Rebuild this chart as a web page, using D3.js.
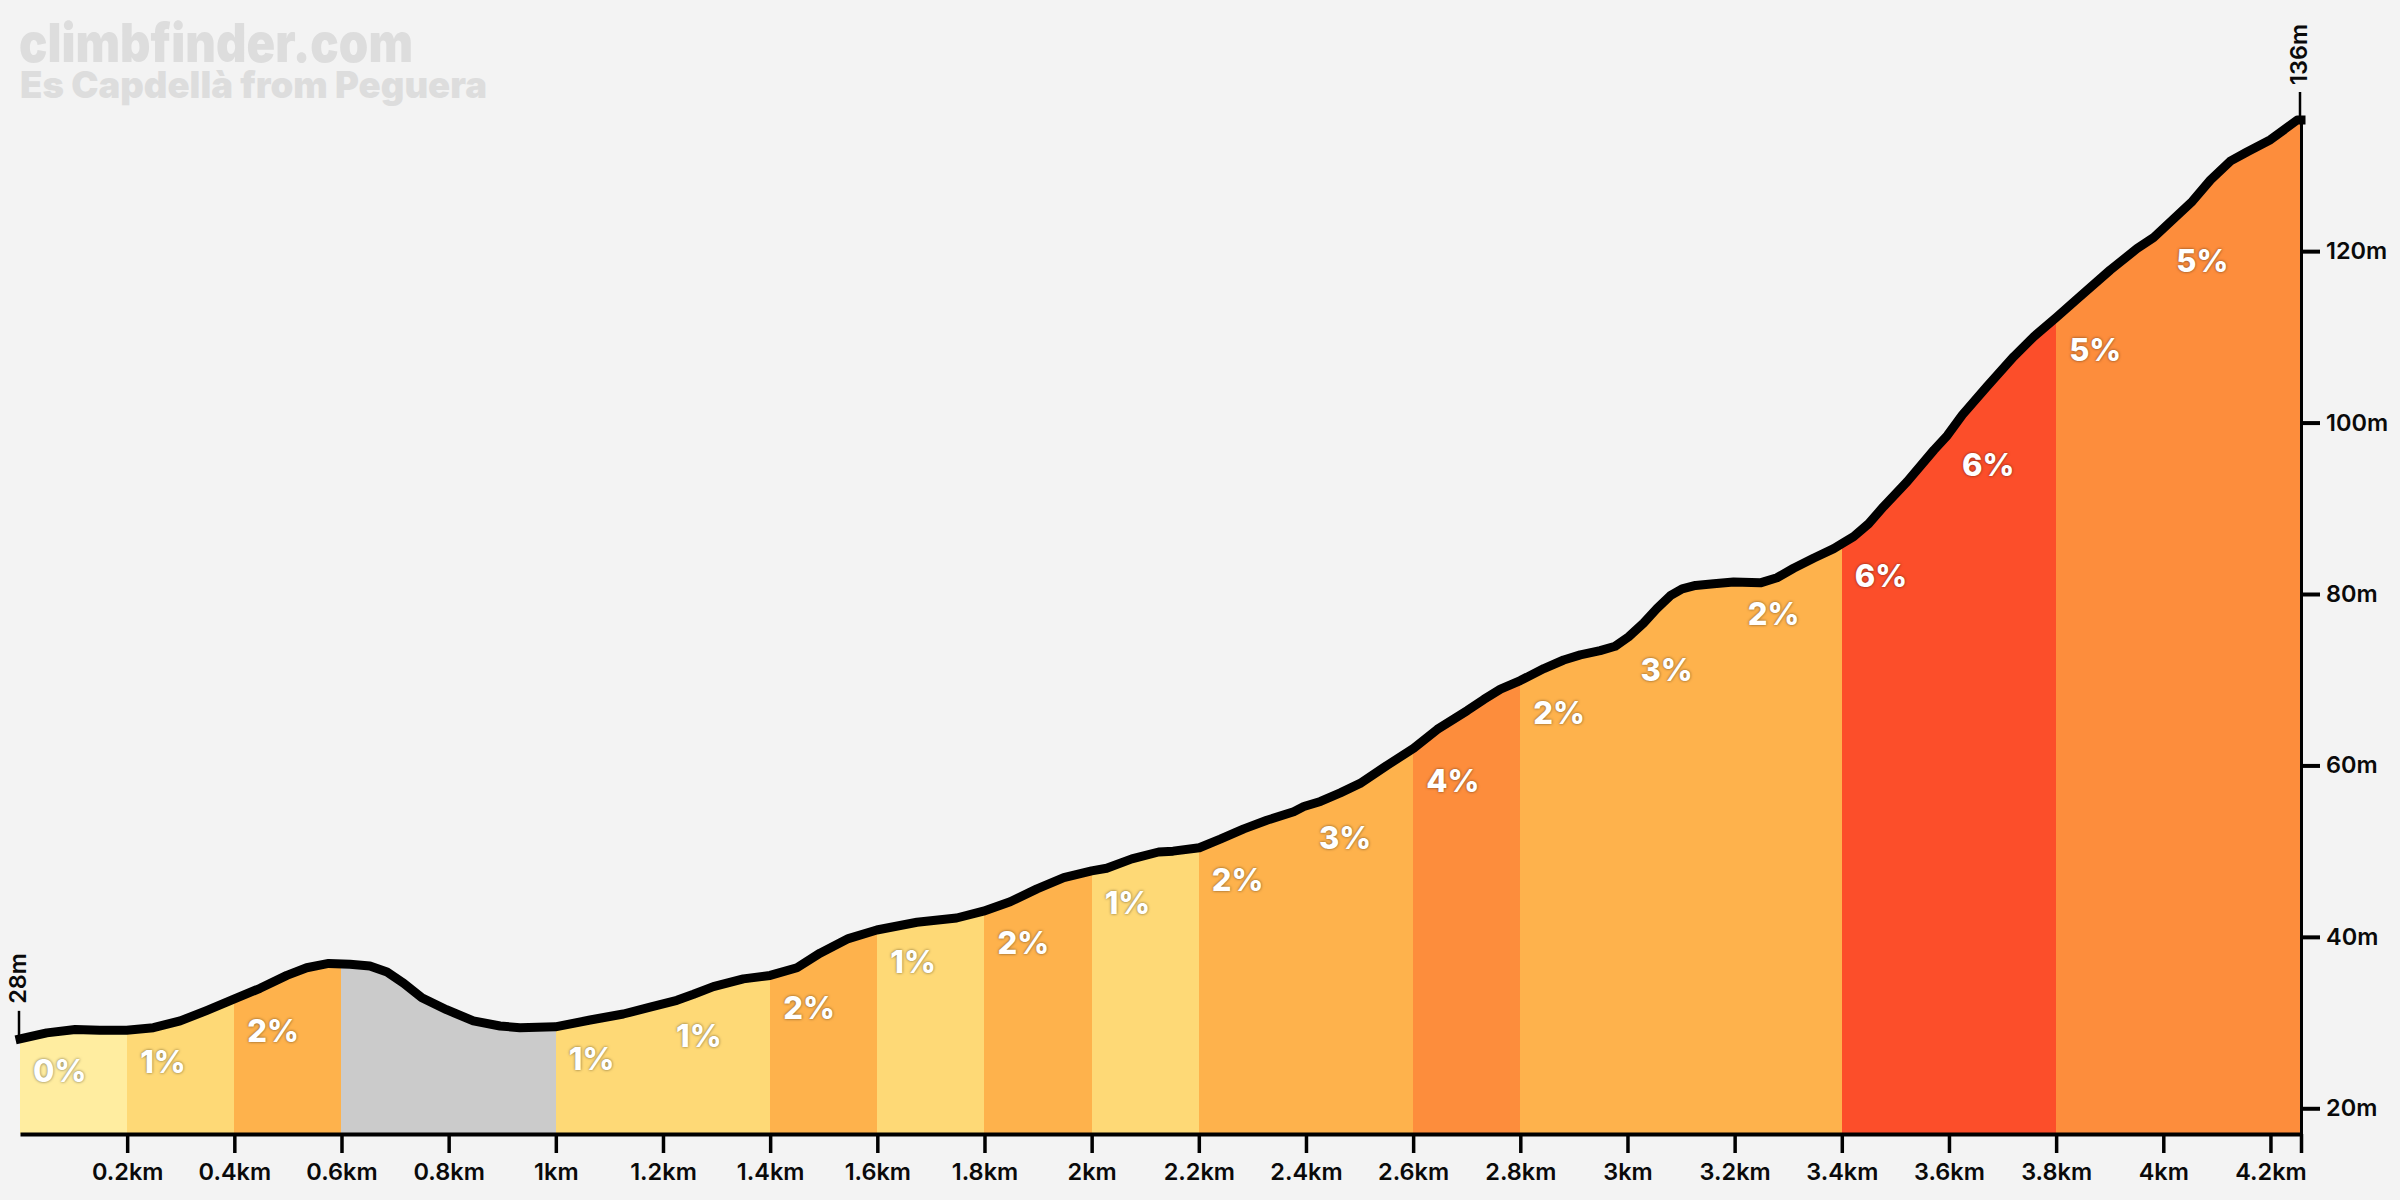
<!DOCTYPE html>
<html>
<head>
<meta charset="utf-8">
<script src="https://d3js.org/d3.v7.min.js"></script>
<style>
  html, body { margin: 0; padding: 0; background: #f3f3f3; }
  svg { display: block; }
  text { font-family: Inter, "Open Sans", sans-serif; }
  .axis text { font-size: 23.5px; font-weight: 600; fill: #0a0a0a; }
  .grade { font-size: 31px; font-weight: 800; fill: #fff; text-shadow: 0 0 3px rgba(0,0,0,.55); }
  .title { font-weight: 900; fill: #dddddd; }
</style>
</head>
<body>
<div id="chart"></div>
<script>
// profile
const distKm = [0,.05,.103,.149,.199,.249,.299,.348,.398,.448,.498,.535,.576,.616,.653,.685,.716,.750,.796,.846,.896,.933,.999,1.064,1.126,1.176,1.226,1.257,1.294,1.350,1.400,1.450,1.493,1.546,1.599,1.674,1.748,1.798,1.848,1.898,1.948,2.0,2.028,2.075,2.125,2.152,2.201,2.240,2.284,2.327,2.377,2.396,2.427,2.464,2.501,2.551,2.601,2.645,2.701,2.732,2.763,2.800,2.844,2.881,2.912,2.949,2.977,3.002,3.030,3.055,3.080,3.102,3.127,3.161,3.198,3.248,3.279,3.310,3.348,3.385,3.401,3.422,3.450,3.478,3.522,3.572,3.597,3.625,3.671,3.721,3.758,3.801,3.839,3.901,3.951,3.982,4.020,4.054,4.088,4.125,4.157,4.200,4.250,4.257];
const elevM = [28.1,28.8,29.2,29.1,29.1,29.4,30.2,31.4,32.7,34.0,35.5,36.4,36.9,36.8,36.6,35.9,34.6,32.9,31.5,30.2,29.6,29.4,29.5,30.3,31.0,31.8,32.6,33.3,34.2,35.1,35.5,36.4,38.1,39.8,40.8,41.7,42.2,43.0,44.1,45.6,46.9,47.7,48.0,49.1,49.9,50.0,50.4,51.4,52.6,53.6,54.6,55.2,55.8,56.8,57.9,60.0,62.0,64.2,66.4,67.7,68.9,69.9,71.3,72.3,72.9,73.4,73.9,75.0,76.6,78.3,79.8,80.6,81.0,81.2,81.4,81.3,81.9,83.0,84.2,85.3,85.9,86.7,88.2,90.2,93.1,96.8,98.5,100.9,104.2,107.7,110.0,112.3,114.4,117.8,120.3,121.6,123.8,125.8,128.3,130.5,131.6,133.0,135.3,135.3];

// one entry per 200m bin, null = downhill (grey, no label)
const binStarts = [0,.2,.4,.6,.8,1,1.2,1.4,1.6,1.8,2,2.2,2.4,2.6,2.8,3,3.2,3.4,3.6,3.8,4,4.2];
const binGrades = [0,1,2,null,null,1,1,2,1,2,1,2,3,4,2,3,2,6,6,5,5,5];
const binLabels = ['0%','1%','2%','','','1%','1%','2%','1%','2%','1%','2%','3%','4%','2%','3%','2%','6%','6%','5%','5%',''];

const xTicks = [.2,.4,.6,.8,1,1.2,1.4,1.6,1.8,2,2.2,2.4,2.6,2.8,3,3.2,3.4,3.6,3.8,4,4.2];
const yTicks = [20,40,60,80,100,120];
const gradeColors = {0:'#ffeda0',1:'#fed976',2:'#feb24c',3:'#feb24c',4:'#fd8d3c',5:'#fd8d3c',6:'#fc4e2a'};

const width = 2400, height = 1200;
const endKm = 4.257;
const profile = d3.zip(distKm, elevM);

const xScale = d3.scaleLinear().domain([0, endKm]).range([20, 2301]);
const yScale = d3.scaleLinear().domain([17, 135.3]).range([1134, 120]);

const svg = d3.select('#chart').append('svg')
  .attr('width', width).attr('height', height);

svg.append('rect').attr('width', width).attr('height', height).attr('fill', '#f3f3f3');

const area = d3.area()
  .x(d => xScale(d[0])).y0(yScale(17)).y1(d => yScale(d[1]));
const line = d3.line()
  .x(d => xScale(d[0])).y(d => yScale(d[1]));

// coloured bins, cut to the profile
svg.append('clipPath').attr('id', 'under')
  .append('path').attr('d', area(profile));

svg.append('g').attr('clip-path', 'url(#under)')
  .selectAll('rect').data(binStarts).enter().append('rect')
  .attr('x', d => Math.round(xScale(d)))
  .attr('y', 0)
  .attr('width', (d, i) => Math.round(xScale(i < binStarts.length - 1 ? binStarts[i + 1] : endKm)) - Math.round(xScale(d)))
  .attr('height', yScale(17))
  .attr('shape-rendering', 'crispEdges')
  .attr('fill', (d, i) => binGrades[i] === null ? '#cbcbcb' : gradeColors[binGrades[i]]);

// axes
const fmtKm = d => d === endKm ? '' : (+d.toFixed(1)) + 'km';
const gx = svg.append('g').attr('class', 'axis')
  .attr('transform', `translate(0, ${yScale(17)})`)
  .call(d3.axisBottom(xScale).tickValues(xTicks.concat([endKm])).tickFormat(fmtKm).tickSize(19).tickSizeOuter(0).tickPadding(10));
gx.select('.domain').attr('stroke', '#000').attr('stroke-width', 4);
gx.selectAll('.tick line').attr('stroke', '#000').attr('stroke-width', 3.5);

const gy = svg.append('g').attr('class', 'axis')
  .attr('transform', `translate(${xScale(endKm)}, 0)`)
  .call(d3.axisRight(yScale).tickValues(yTicks).tickFormat(d => d + 'm').tickSize(19).tickSizeOuter(0).tickPadding(6));
gy.select('.domain').attr('stroke', '#000').attr('stroke-width', 3);
gy.selectAll('.tick line').attr('stroke', '#000').attr('stroke-width', 4);

// start and end markers
const markers = [
  { km: 0, m: elevM[0], label: '28m' },
  { km: endKm, m: elevM[elevM.length - 1], label: '136m' }
];
svg.selectAll('.marker').data(markers).enter().append('line')
  .attr('class', 'marker')
  .attr('x1', d => xScale(d.km) - 1).attr('x2', d => xScale(d.km) - 1)
  .attr('y1', d => yScale(d.m)).attr('y2', d => yScale(d.m) - 28)
  .attr('stroke', '#000').attr('stroke-width', 2.5);
svg.selectAll('.marker-label').data(markers).enter().append('text')
  .attr('class', 'marker-label')
  .attr('transform', d => `translate(${xScale(d.km) - 2}, ${yScale(d.m) - 35}) rotate(-90)`)
  .attr('dy', '0.35em')
  .style('font-size', '23.5px').style('font-weight', 600).attr('fill', '#0a0a0a')
  .text(d => d.label);

// profile line
svg.append('path')
  .attr('d', line(profile))
  .attr('fill', 'none')
  .attr('stroke', '#000')
  .attr('stroke-width', 9)
  .attr('stroke-linecap', 'square')
  .attr('stroke-linejoin', 'round');

// grade labels sit just under the line at the start of the bin
const elevAt = km => {
  const i = Math.max(1, d3.bisectLeft(distKm, km));
  const t = (km - distKm[i - 1]) / (distKm[i] - distKm[i - 1]);
  return elevM[i - 1] + t * (elevM[i] - elevM[i - 1]);
};
svg.selectAll('.grade').data(binStarts).enter().append('text')
  .attr('class', 'grade')
  .attr('x', d => xScale(d) + 13)
  .attr('y', d => yScale(elevAt(d)) + 32)
  .attr('dy', '0.36em')
  .text((d, i) => binLabels[i]);

// watermark
svg.append('text').attr('class', 'title')
  .attr('x', 19).attr('y', 62).style('font-size', '54px')
  .attr('textLength', 394).attr('lengthAdjust', 'spacingAndGlyphs')
  .text('climbfinder.com');
svg.append('text').attr('class', 'title')
  .attr('x', 20).attr('y', 98).style('font-size', '37px')
  .attr('textLength', 467).attr('lengthAdjust', 'spacingAndGlyphs')
  .text('Es Capdellà from Peguera');
</script>
</body>
</html>
